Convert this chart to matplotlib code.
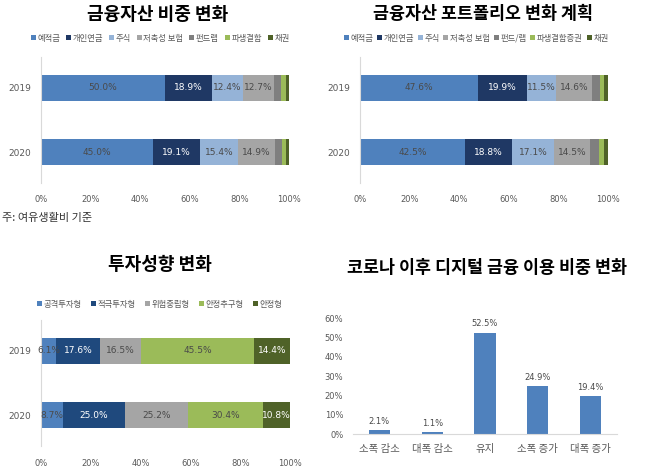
import numpy as np
import matplotlib
matplotlib.use("Agg")
import matplotlib.pyplot as plt

plt.rcParams['font.family'] = ['Noto Sans CJK KR', 'DejaVu Sans']

# === Daten ===
years = ["2019", "2020"]

asset_labels = ["예적금", "개인연금", "주식", "저축성 보험", "펀드랩", "파생결합", "채권"]
asset_2019 = [50.0, 18.9, 12.4, 12.7, 2.9, 1.8, 1.3]
asset_2020 = [45.0, 19.1, 15.4, 14.9, 2.6, 1.6, 1.4]

plan_labels = ["예적금", "개인연금", "주식", "저축성 보험", "펀드/랩", "파생결합증권", "채권"]
plan_2019 = [47.6, 19.9, 11.5, 14.6, 3.1, 1.5, 1.8]
plan_2020 = [42.5, 18.8, 17.1, 14.5, 3.6, 1.9, 1.6]

risk_labels = ["공격투자형", "적극투자형", "위험중립형", "안정추구형", "안정형"]
risk_2019 = [6.1, 17.6, 16.5, 45.5, 14.4]
risk_2020 = [8.7, 25.0, 25.2, 30.4, 10.8]

digital_cats = ["소폭 감소", "대폭 감소", "유지", "소폭 증가", "대폭 증가"]
digital_vals = [2.1, 1.1, 52.5, 24.9, 19.4]

asset_colors = ["#4f81bd", "#1f3864", "#95b3d7", "#a5a5a5", "#7f7f7f", "#9bbb59", "#4f6228"]
risk_colors = ["#4f81bd", "#1f497d", "#a5a5a5", "#9bbb59", "#4f6228"]

W, H = 647, 471
fig = plt.figure(figsize=(W / 100, H / 100), dpi=100)
fig.patch.set_facecolor("white")


def px_axes(x0, y0, x1, y1):
    # Pixelkoordinaten (oben links) -> Figurenkoordinaten
    return fig.add_axes([x0 / W, 1 - y1 / H, (x1 - x0) / W, (y1 - y0) / H])


def stacked(ax, labels, rows, colors, label_n, white_idx, leg_y, leg_x, spacing):
    for j, lab in enumerate(labels):
        vals = np.array([r[j] for r in rows])
        lefts = np.array([sum(r[:j]) for r in rows])
        bars = ax.barh(np.arange(len(rows)), vals, left=lefts, height=0.4,
                       color=colors[j], label=lab)
        if j < label_n:
            tc = "white" if j in white_idx else "#4a4a4a"
            ax.bar_label(bars, labels=[f"{v:.1f}%" for v in vals], label_type="center",
                         fontsize=6.5, color=tc, family="DejaVu Sans")
    ax.set_xlim(0, 100)
    ax.set_ylim(1.47, -0.47)
    ax.set_yticks([0, 1])
    ax.set_yticklabels(years, fontsize=6.5, color="#595959", family="DejaVu Sans")
    ax.set_xticks(range(0, 101, 20))
    ax.set_xticklabels([f"{t}%" for t in range(0, 101, 20)], fontsize=6,
                       color="#595959", family="DejaVu Sans")
    for s in ["top", "right", "bottom"]:
        ax.spines[s].set_visible(False)
    ax.spines["left"].set_color("#d9d9d9")
    ax.tick_params(length=0, pad=7)
    ax.tick_params(axis="x", pad=9)
    leg = ax.legend(loc="center", bbox_to_anchor=(leg_x / W, 1 - leg_y / H),
                    bbox_transform=fig.transFigure, ncol=len(labels), frameon=False,
                    fontsize=6, handlelength=0.6, handleheight=0.6, handletextpad=0.2,
                    columnspacing=spacing)
    for t in leg.get_texts():
        t.set_color("#595959")


# Oben links
ax1 = px_axes(41, 57, 289, 183)
stacked(ax1, asset_labels, [asset_2019, asset_2020], asset_colors, 4, [1], 38, 160, 0.7)
fig.text(158 / W, 1 - 14 / H, "금융자산 비중 변화", ha="center", va="center",
         fontsize=13, fontweight="bold")
fig.text(2 / W, 1 - 218 / H, "주: 여유생활비 기준", ha="left", va="center",
         fontsize=8, color="#333333")

# Oben rechts
ax2 = px_axes(360, 57, 608, 183)
stacked(ax2, plan_labels, [plan_2019, plan_2020], asset_colors, 4, [1], 38, 476, 0.45)
fig.text(483 / W, 1 - 14 / H, "금융자산 포트폴리오 변화 계획", ha="center", va="center",
         fontsize=12.5, fontweight="bold")

# Unten links
ax3 = px_axes(41, 320, 290, 446)
stacked(ax3, risk_labels, [risk_2019, risk_2020], risk_colors, 5, [1, 4], 304, 160, 1.1)
ax3.set_ylim(1.47, -0.47)
fig.text(160 / W, 1 - 265 / H, "투자성향 변화", ha="center", va="center",
         fontsize=13, fontweight="bold")

# Unten rechts
ax4 = px_axes(353, 318, 617, 434)
x = np.arange(len(digital_cats))
bars = ax4.bar(x, digital_vals, width=0.4, color="#4f81bd")
ax4.bar_label(bars, labels=[f"{v:.1f}%" for v in digital_vals], padding=3,
              fontsize=6, color="#4a4a4a", family="DejaVu Sans")
ax4.set_xlim(-0.5, 4.5)
ax4.set_ylim(0, 60)
ax4.set_yticks(range(0, 61, 10))
ax4.set_yticklabels([f"{t}%" for t in range(0, 61, 10)], fontsize=6,
                    color="#595959", family="DejaVu Sans")
ax4.set_xticks(x)
ax4.set_xticklabels(digital_cats, fontsize=7.5, color="#595959")
for s in ["top", "right", "left"]:
    ax4.spines[s].set_visible(False)
ax4.spines["bottom"].set_color("#d9d9d9")
ax4.tick_params(length=0, pad=7)
fig.text(487 / W, 1 - 268 / H, "코로나 이후 디지털 금융 이용 비중 변화", ha="center",
         va="center", fontsize=12.5, fontweight="bold")

fig.savefig("out.png", dpi=100)
